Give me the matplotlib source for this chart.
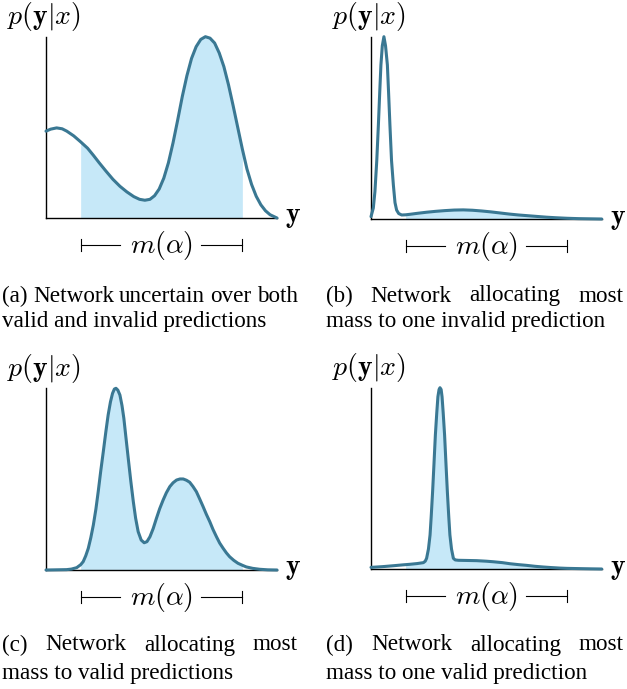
import matplotlib
matplotlib.use("Agg")
import matplotlib.pyplot as plt

plt.rcParams["mathtext.fontset"] = "cm"
plt.rcParams["font.family"] = "Liberation Serif"

# ---------------------------------------------------------
# DATA (x: 0-100 along the y-axis, y: 0-100 density height)
# ---------------------------------------------------------
a_x = [0, 2, 4.6, 7, 9, 12, 15, 18, 20.5, 23, 26, 29, 32, 35, 38, 40.5, 42.8,
       45, 47, 49, 51, 53, 55, 57, 59, 61, 63, 65, 67, 69, 71, 73, 75, 77,
       79, 81, 83, 85, 87, 89, 91, 93, 95, 97, 100]
a_y = [47.9, 49.0, 49.7, 49.2, 47.9, 45.3, 42.0, 38.5, 34.6, 30.5, 25.8, 21.3,
       17.5, 14.4, 11.8, 10.3, 9.8, 10.3, 12.3, 16.0, 22.0, 30.5, 41.5, 54.0,
       67.0, 78.5, 88.0, 94.5, 98.5, 100.0, 99.2, 96.5, 91.0, 83.5, 73.5,
       62.0, 50.0, 38.0, 27.0, 18.5, 12.0, 7.3, 4.0, 1.8, 0.0]

b_x = [0, 1, 1.7, 2.5, 3.2, 3.8, 4.3, 4.9, 5.6, 6.3, 7.1, 7.6, 8.2, 8.9, 9.7,
       10.4, 11.1, 12, 13.3, 15, 17, 20, 24, 28, 32, 36, 40, 44, 48, 52, 56,
       60, 64, 68, 72, 76, 80, 85, 90, 95, 100]
b_y = [1.3, 6, 15, 32, 51.6, 70, 84.5, 95, 100, 95, 84.5, 70, 51.6, 32, 18.6,
       9, 4.9, 3, 2.2, 2.3, 2.6, 3.1, 3.7, 4.2, 4.6, 4.9, 5.0, 4.8, 4.4, 3.9,
       3.3, 2.7, 2.2, 1.8, 1.4, 1.0, 0.7, 0.4, 0.2, 0.1, 0.0]

c_x = [0, 8.9, 11, 13.3, 15, 16.1, 17.2, 18.3, 19.4, 20.5, 21.6, 22.6, 23.7,
       24.8, 25.9, 26.9, 27.9, 28.8, 29.6, 30.3, 31.1, 32.0, 32.9, 33.7, 34.6,
       35.6, 36.7, 37.8, 38.8, 39.9, 41.2, 42.5, 43.7, 45, 46.4, 47.8, 49.2,
       50.7, 52.1, 53.6, 55, 56.5, 58, 59.4, 60.8, 62.2, 63.6, 65.1, 66.5, 68.0,
       69.4, 70.9, 72.3, 73.8, 75.2, 76.7, 78.1, 79.5, 81.3, 83.1, 85, 86.7,
       89.5, 92.5, 96, 100]
c_y = [0, 0.2, 0.5, 1.3, 2.9, 4.6, 7.8, 11.9, 17.8, 24.8, 33.5, 43.1, 54.5,
       65.1, 76, 85.3, 92.5, 97.2, 99.6, 100, 99, 96.3, 90.5, 83.5, 73, 61.5,
       49, 37.6, 28.5, 21.1, 16.5, 15, 15.6, 18.3, 22.8, 28.4, 33.7, 38.5,
       42.5, 45.9, 48, 49.5, 50.1, 50.1, 49.4, 48.3, 46, 43.1, 39.2, 34.9,
       30.7, 26.6, 22.3, 18.3, 14.8, 11.9, 9.4, 7.3, 5.3, 3.7, 2.6, 1.7, 0.9,
       0.4, 0.1, 0]

d_x = [0, 5, 9.7, 14, 15, 16.9, 20, 22.7, 23.5, 24.1, 24.9, 25.6, 26.1, 26.7,
       27.3, 27.9, 28.5, 29.0, 29.5, 29.9, 30.4, 30.8, 31.3, 31.9, 32.5, 33.1,
       33.7, 34.2, 34.9, 35.7, 36.5, 37.9, 42, 45.8, 50, 53.0, 57, 60.3, 64,
       67.5, 71, 74.7, 78, 82, 85, 90.7, 95, 100]
d_y = [0.9, 1.3, 1.8, 2.3, 2.4, 2.6, 3.0, 3.5, 4.3, 5.9, 11, 18.8, 29, 42.6,
       58, 73.9, 86, 95, 99, 100, 99, 95, 86, 73.9, 58, 42.6, 29, 18.8, 11,
       5.9, 5.0, 4.8, 4.7, 4.6, 4.3, 4.0, 3.5, 2.9, 2.4, 2.0, 1.5, 1.1, 0.8,
       0.5, 0.35, 0.2, 0.1, 0]

shade_lo, shade_hi = 15, 85

captions = [
    ("(a) Network uncertain over both", "valid and invalid predictions"),
    ("(b) Network allocating most", "mass to one invalid prediction"),
    ("(c) Network allocating most", "mass to valid predictions"),
    ("(d) Network allocating most", "mass to one valid prediction"),
]

line_col = "#3a7893"
fill_col = "#c6e8f8"

W, H = 627, 689
fig = plt.figure(figsize=(W / 100, H / 100), dpi=100)

# axes boxes in pixels: left, right, top, bottom
boxes = [(46, 277, 36.7, 218), (371, 601.7, 36.7, 219),
         (46, 277, 388.3, 570), (371, 601.7, 387.7, 569)]
curves = [(a_x, a_y), (b_x, b_y), (c_x, c_y), (d_x, d_y)]

for (l, r, t, b), (xs, ys) in zip(boxes, curves):
    ax = fig.add_axes([l / W, 1 - b / H, (r - l) / W, (b - t) / H])
    ax.set_xlim(0, 100)
    ax.set_ylim(0, 100)
    for s in ["top", "right"]:
        ax.spines[s].set_visible(False)
    for s in ["left", "bottom"]:
        ax.spines[s].set_linewidth(1.0)
        ax.spines[s].set_color("black")
    ax.set_xticks([])
    ax.set_yticks([])
    ax.patch.set_alpha(0)

    fx = [x for x in xs if shade_lo <= x <= shade_hi]
    fy = [y for x, y in zip(xs, ys) if shade_lo <= x <= shade_hi]
    ax.fill_between(fx, fy, 0, color=fill_col, lw=0, zorder=1)
    ax.plot(xs, ys, color=line_col, lw=2.2, solid_capstyle="round",
            solid_joinstyle="round", clip_on=False, zorder=3)

    ax.text(-1, 111, r"$p(\mathbf{y}|x)$", fontsize=20, ha="center",
            va="center")
    ax.text(107, 0, r"$\mathbf{y}$", fontsize=20, ha="center", va="center")

    # m(alpha) bracket
    yb = -15
    ax.plot([shade_lo, 32], [yb, yb], color="black", lw=0.8, clip_on=False)
    ax.plot([67, shade_hi], [yb, yb], color="black", lw=0.8, clip_on=False)
    for xe in (shade_lo, shade_hi):
        ax.plot([xe, xe], [yb - 3.3, yb + 3.3], color="black", lw=0.8,
                clip_on=False)
    ax.text(50, yb, r"$m(\alpha)$", fontsize=20, ha="center", va="center")

# ---------------------------------------------------------
# CAPTIONS (first line justified)
# ---------------------------------------------------------
cap_pos = [(2, 298, 296, 322), (326, 624, 296, 322),
           (2, 298, 645, 673), (326, 624, 645, 673)]
fs = 16.7
renderer = fig.canvas.get_renderer()
for (l1, l2), (xl, xr, y1, y2) in zip(captions, cap_pos):
    words = l1.split(" ")
    texts = [fig.text(0, 1 - y1 / H, w, fontsize=fs, va="center", ha="left")
             for w in words]
    widths = [t.get_window_extent(renderer).width for t in texts]
    gap = ((xr - xl) - sum(widths)) / (len(words) - 1)
    x = xl
    for t, w in zip(texts, widths):
        t.set_x(x / W)
        x += w + gap
    fig.text(xl / W, 1 - y2 / H, l2, fontsize=fs, va="center", ha="left")

fig.savefig("out.png", dpi=100)
